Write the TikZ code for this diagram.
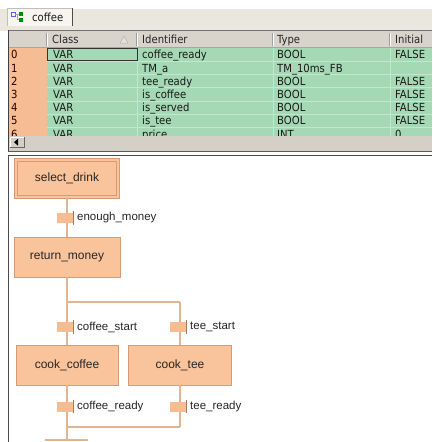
\documentclass[tikz,border=0pt]{standalone}
\usepackage{fontspec}
\setmainfont{Liberation Sans}
\newfontfamily\gridfont{DejaVu Sans Condensed}
\definecolor{tabbar}{HTML}{E9E7DE}
\definecolor{tabface}{HTML}{F6F5F0}
\definecolor{hdr}{HTML}{D8D4CB}
\definecolor{rowgreen}{HTML}{A5D8B4}
\definecolor{rowline}{HTML}{C3E6CE}
\definecolor{idxorange}{HTML}{F6BD94}
\definecolor{scroll}{HTML}{D4D0C8}
\definecolor{stepfill}{HTML}{F9C39B}
\definecolor{stepedge}{HTML}{D59B73}
\definecolor{flowline}{HTML}{E2B48F}
\definecolor{trfill}{HTML}{F7BC92}
\begin{document}
\begin{tikzpicture}[x=1pt,y=-1pt,
  stepbox/.style={draw=stepedge, fill=stepfill, line width=0.9pt, minimum height=40pt,
    font=\fontsize{12}{14}\selectfont, text=black!85, inner sep=0pt},
  initstep/.style={stepbox, double=stepfill, double distance=2pt, line width=0.7pt},
  trbox/.style={fill=trfill, minimum width=16pt, minimum height=10pt, inner sep=0pt},
  trtick/.style={draw=stepedge!80!black, line width=0.6pt},
  trlabel/.style={anchor=west, font=\fontsize{11.5}{13}\selectfont, text=black!85, inner sep=0pt},
  flow/.style={draw=flowline, line width=1.1pt},
  cell/.style={anchor=base west, font=\gridfont\fontsize{11.2}{13}\selectfont, inner sep=0pt, text=black!90},
  hcell/.style={cell, text=black!85},
]
\useasboundingbox (0,0) rectangle (432,442);
\fill[white] (0,0) rectangle (432,442);

% ---------- tab strip ----------
\fill[tabbar] (0,9) rectangle (432,31);
\fill[tabface] (7,8) rectangle (72,26);
\draw[gray!50] (7,26) -- (7,8) -- (72,8);
\draw[black!70, line width=1pt] (72,8) -- (72,26);
\draw[blue!65, line width=0.8pt] (11,12) rectangle (15,16);
\fill[green!55!black] (19,11.5) rectangle (23,15.5);
\fill[green!55!black] (19,17.5) rectangle (23,21.5);
\draw[gray!70, line width=0.5pt] (15,14) -- (19,14) (17,14) -- (17,19.5) -- (19,19.5);
\node[cell] (tabname) at (32,21.5) {coffee};

% ---------- variable grid ----------
\draw[black!55, line width=1pt] (8,30.5) -- (432,30.5);
\fill[hdr] (9,31) rectangle (432,47.5);
\foreach \cx in {47,137,273,390}{
  \draw[gray!75] (\cx-0.8,33) -- (\cx-0.8,46);
  \draw[white] (\cx+0.2,33) -- (\cx+0.2,46);
}
\draw[gray!70] (9,47.5) -- (432,47.5);
\node[hcell] (hclass) at (52,43.5) {Class};
\draw[gray!60, fill=hdr!70!white, line width=0.5pt] (120,43) -- (124,36) -- (128,43) -- cycle;
\node[hcell] (hident) at (142,43.5) {Identifier};
\node[hcell] (htype) at (277,43.5) {Type};
\node[hcell] (hinit) at (395,43.5) {Initial};

\begin{scope}
  \clip (9,48) rectangle (432,136);
  \fill[idxorange] (9,48) rectangle (47,136);
  \fill[rowgreen] (47,48) rectangle (432,136);
  \foreach \cx in {137,273,390}{ \draw[rowline, line width=0.6pt] (\cx,48) -- (\cx,136); }
  \foreach \i in {1,...,6}{ \draw[rowline, line width=0.4pt] (47,48+13.2*\i) -- (432,48+13.2*\i); }
  \draw[black!80, line width=1pt] (47.5,48.3) rectangle (137,60.8);
  \foreach \i/\id/\ty/\ini in {0/coffee\_ready/BOOL/FALSE, 1/TM\_a/TM\_10ms\_FB/, 2/tee\_ready/BOOL/FALSE,
      3/is\_coffee/BOOL/FALSE, 4/is\_served/BOOL/FALSE, 5/is\_tee/BOOL/FALSE, 6/price/INT/0}{
    \pgfmathsetmacro{\ry}{58.9+13.2*\i}
    \node[cell, text=black!85!red] (n\i) at (11,\ry) {\i};
    \node[cell] (c\i) at (53,\ry) {VAR};
    \node[cell] (d\i) at (142,\ry) {\id};
    \node[cell] (t\i) at (277,\ry) {\ty};
    \node[cell] (v\i) at (395,\ry) {\ini};
  }
\end{scope}
\draw[black!75, line width=1.2pt] (8.6,30) -- (8.6,151);

% scroll bar
\fill[scroll] (9,136) rectangle (432,151);
\draw[white, line width=0.6pt] (10,147.5) -- (10,137) -- (24,137);
\draw[gray!80!black, line width=0.6pt] (24,137) -- (24,147.5) -- (10,147.5);
\fill[black] (14,142.2) -- (18,138.7) -- (18,145.7) -- cycle;
\draw[black!65, line width=1.2pt] (8,151.6) -- (432,151.6);

% ---------- chart frame ----------
\draw[black!70, line width=1pt] (8.6,442) -- (8.6,155.5) -- (432,155.5);

% ---------- steps ----------
\node[initstep, minimum width=102pt, minimum height=37pt] (sd) at (67,178.5) {select\_drink};
\node[stepbox, minimum width=106pt] (rm) at (67,257) {return\_money};
\node[stepbox, minimum width=102pt] (cc) at (67,365) {cook\_coffee};
\node[stepbox, minimum width=103pt] (ct) at (180,365) {cook\_tee};

% ---------- branch points ----------
\coordinate (b1) at (67,302);
\coordinate (b2) at (180,302);
\coordinate (j1) at (67,427);
\coordinate (j2) at (180,427);
\coordinate (nx) at (67,440);
\coordinate (nxl) at (45,440);
\coordinate (nxr) at (88,440);

% ---------- connectors ----------
\draw[flow] (sd.south) -- (rm.north);
\draw[flow] (rm.south) -- (b1) -- (b2);
\draw[flow] (b1) -- (cc.north);
\draw[flow] (b2) -- (b2 |- ct.north);
\draw[flow] (cc.south) -- (j1);
\draw[flow] (j2 |- ct.south) -- (j2);
\draw[flow] (j1) -- (j2);
\draw[flow] (j1) -- (nx);
\draw[flow] (nxl) -- (nxr);

% ---------- transitions ----------
\foreach \nm/\tx/\ty/\lb in {tr1/65/218/enough\_money, tr2/65/327/coffee\_start, tr3/178/327/tee\_start,
    tr4/65/406.5/coffee\_ready, tr5/178/406.5/tee\_ready}{
  \node[trbox] (\nm) at (\tx,\ty) {};
  \draw[trtick] ([yshift=1.5pt]\nm.north east) -- ([yshift=-1.5pt]\nm.south east);
  \node[trlabel] (\nm l) at (\tx+12,\ty) {\lb};
}
\end{tikzpicture}
\end{document}
